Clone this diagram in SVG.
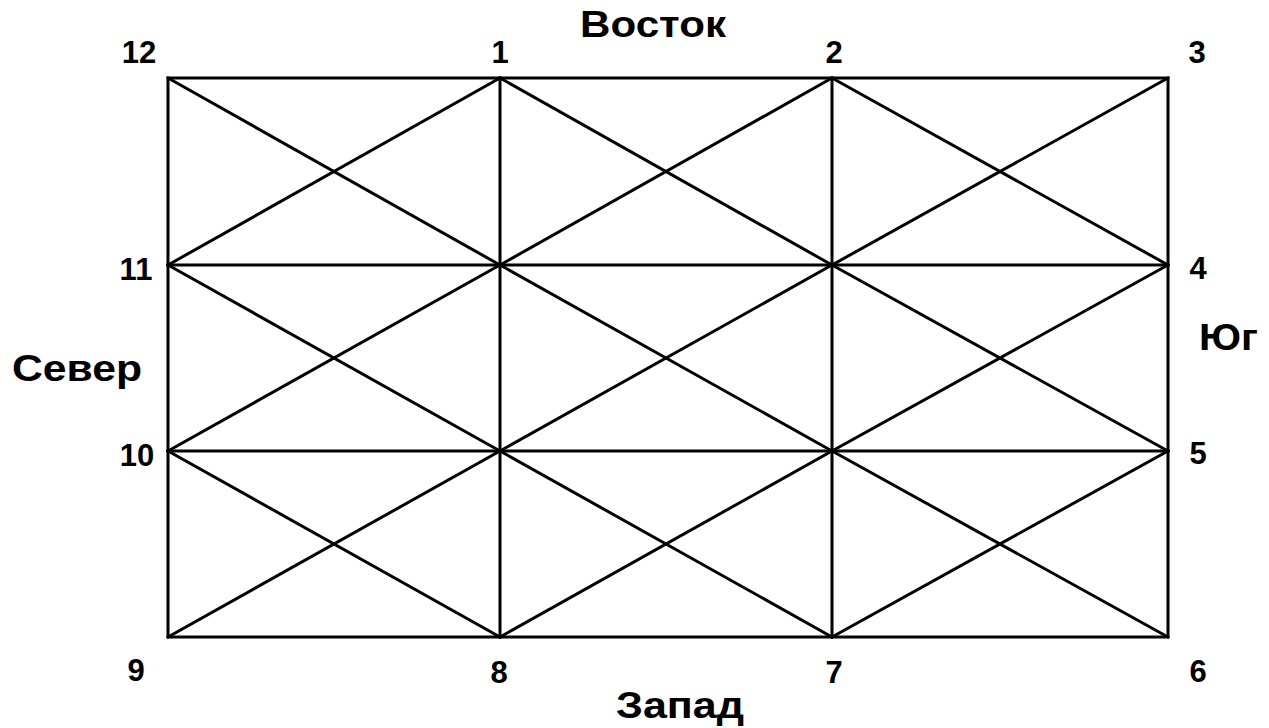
<svg xmlns="http://www.w3.org/2000/svg" width="1269" height="728" viewBox="0 0 1269 728">
<style>
.ln{stroke:#000;stroke-width:3;fill:none;stroke-linecap:square}
.num{font-family:"Liberation Sans",Arial,sans-serif;font-size:31px;font-weight:bold;fill:#000;text-anchor:middle}
.dir{font-family:"Liberation Sans",Arial,sans-serif;font-size:36px;font-weight:bold;fill:#000}
</style>
<rect width="1269" height="728" fill="#fff"/>
<g id="connectors" class="ln">
<rect x="168" y="78" width="1000" height="559"/>
<line x1="500" y1="78" x2="500" y2="637"/>
<line x1="832" y1="78" x2="832" y2="637"/>
<line x1="168" y1="265" x2="1168" y2="265"/>
<line x1="168" y1="451" x2="1168" y2="451"/>
<line x1="168" y1="78" x2="500" y2="265"/>
<line x1="168" y1="265" x2="500" y2="78"/>
<line x1="500" y1="78" x2="832" y2="265"/>
<line x1="500" y1="265" x2="832" y2="78"/>
<line x1="832" y1="78" x2="1168" y2="265"/>
<line x1="832" y1="265" x2="1168" y2="78"/>
<line x1="168" y1="265" x2="500" y2="451"/>
<line x1="168" y1="451" x2="500" y2="265"/>
<line x1="500" y1="265" x2="832" y2="451"/>
<line x1="500" y1="451" x2="832" y2="265"/>
<line x1="832" y1="265" x2="1168" y2="451"/>
<line x1="832" y1="451" x2="1168" y2="265"/>
<line x1="168" y1="451" x2="500" y2="637"/>
<line x1="168" y1="637" x2="500" y2="451"/>
<line x1="500" y1="451" x2="832" y2="637"/>
<line x1="500" y1="637" x2="832" y2="451"/>
<line x1="832" y1="451" x2="1168" y2="637"/>
<line x1="832" y1="637" x2="1168" y2="451"/>
</g>
<g id="n12"><text class="num" x="139" y="63">12</text></g>
<g id="n1"><text class="num" x="500" y="63">1</text></g>
<g id="n2"><text class="num" x="834" y="63">2</text></g>
<g id="n3"><text class="num" x="1197" y="63">3</text></g>
<g id="n11"><text class="num" x="136" y="280">11</text></g>
<g id="n4"><text class="num" x="1198" y="279">4</text></g>
<g id="n10"><text class="num" x="137" y="466">10</text></g>
<g id="n5"><text class="num" x="1198" y="464">5</text></g>
<g id="n9"><text class="num" x="136" y="681">9</text></g>
<g id="n8"><text class="num" x="499" y="683">8</text></g>
<g id="n7"><text class="num" x="834" y="683">7</text></g>
<g id="n6"><text class="num" x="1198" y="682">6</text></g>
<g id="east"><text class="dir" x="580" y="37" textLength="146" lengthAdjust="spacingAndGlyphs">Восток</text></g>
<g id="north"><text class="dir" x="12" y="381" textLength="130" lengthAdjust="spacingAndGlyphs">Север</text></g>
<g id="south"><text class="dir" x="1199" y="350" textLength="59" lengthAdjust="spacingAndGlyphs">Юг</text></g>
<g id="west"><text class="dir" x="616" y="718" textLength="128" lengthAdjust="spacingAndGlyphs">Запад</text></g>
</svg>
